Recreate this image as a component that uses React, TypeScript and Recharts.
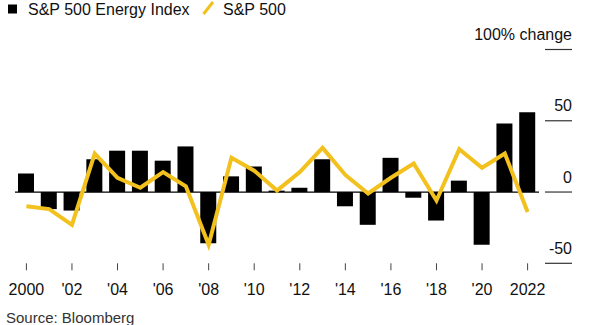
import React from "react";
import { ComposedChart, Bar, Line, XAxis, YAxis, ReferenceLine } from "recharts";

const years = [2000, 2001, 2002, 2003, 2004, 2005, 2006, 2007, 2008, 2009, 2010, 2011, 2012, 2013, 2014, 2015, 2016, 2017, 2018, 2019, 2020, 2021, 2022];
const energy = [13, -12, -13, 23, 29, 29, 22, 32, -36, 11, 18, 1, 3, 23, -10, -23, 24, -4, -20, 8, -37, 48, 56];
const sp500 = [-10, -12, -23, 27, 10, 3, 14, 4, -37, 24, 15, 1, 14, 31, 12, -1, 10, 20, -6, 30, 17, 27, -14];
const xTicks = [2000, 2002, 2004, 2006, 2008, 2010, 2012, 2014, 2016, 2018, 2020, 2022];
const xLabels = ["2000", "'02", "'04", "'06", "'08", "'10", "'12", "'14", "'16", "'18", "'20", "2022"];
const yTicks = [-50, 0, 50, 100];
const yLabels = ["-50", "0", "50", "100% change"];

const data = years.map((y, i) => ({ year: y, energy: energy[i], sp: sp500[i] }));

const FONT = "'Liberation Sans', Arial, sans-serif";
const YELLOW = "#f2c11d";

const XTick = (props: any) => {
  const { x, y, payload } = props;
  const idx = xTicks.indexOf(payload.value);
  return (
    <g>
      <line x1={x} x2={x} y1={y} y2={y + 7} stroke="#444" strokeWidth={1} />
      <text x={x} y={y + 31.5} textAnchor="middle" fontSize={16} fontFamily={FONT} fill="#111">
        {idx >= 0 ? xLabels[idx] : ""}
      </text>
    </g>
  );
};

const YTick = (props: any) => {
  const { x, y, payload } = props;
  const idx = yTicks.indexOf(payload.value);
  return (
    <g>
      <line x1={x + 6} x2={x + 33} y1={y} y2={y} stroke="#333" strokeWidth={1.2} />
      <text x={x + 33} y={y - 9.5} textAnchor="end" fontSize={16} fontFamily={FONT} fill="#111">
        {idx >= 0 ? yLabels[idx] : ""}
      </text>
    </g>
  );
};

export default function App() {
  return (
    <div style={{ position: "absolute", left: 0, top: 0, width: 596, height: 325, background: "#fff", overflow: "hidden" }}>
      <ComposedChart
        width={596}
        height={325}
        data={data}
        margin={{ top: 49.5, right: 0, bottom: 31.7, left: 15 }}
        barCategoryGap={0}
      >
        <XAxis
          dataKey="year"
          type="category"
          ticks={xTicks}
          interval={0}
          axisLine={false}
          tickLine={false}
          tickSize={0}
          tickMargin={0}
          height={30}
          tick={<XTick />}
        />
        <YAxis
          orientation="right"
          domain={[-50, 100]}
          ticks={yTicks}
          axisLine={false}
          tickLine={false}
          tickSize={0}
          tickMargin={0}
          width={57}
          tick={<YTick />}
        />
        <ReferenceLine y={0} stroke="#000" strokeWidth={1.3} />
        <Bar dataKey="energy" fill="#000" barSize={16} isAnimationActive={false} />
        <Line
          dataKey="sp"
          type="linear"
          stroke={YELLOW}
          strokeWidth={4}
          dot={false}
          activeDot={false}
          strokeLinejoin="miter"
          isAnimationActive={false}
        />
      </ComposedChart>
      <svg width={596} height={325} style={{ position: "absolute", left: 0, top: 0, pointerEvents: "none" }}>
        <rect x={8} y={4.5} width={9} height={9} fill="#000" />
        <text x={28} y={15} fontSize={16} fontFamily={FONT} fill="#111">S&amp;P 500 Energy Index</text>
        <line x1={203.5} y1={14} x2={213} y2={2} stroke={YELLOW} strokeWidth={3} />
        <text x={223} y={15} fontSize={16} fontFamily={FONT} fill="#111">S&amp;P 500</text>
        <text x={6} y={323} fontSize={15} fontFamily={FONT} fill="#333">Source: Bloomberg</text>
      </svg>
    </div>
  );
}
